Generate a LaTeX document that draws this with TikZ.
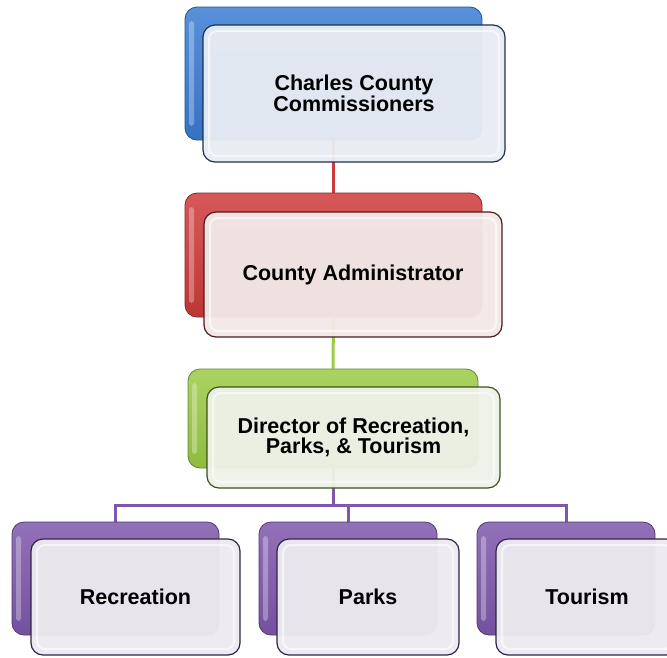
\documentclass[tikz,border=0pt]{standalone}
\usepackage{fontspec}
\setmainfont{Liberation Sans}
\usetikzlibrary{positioning,backgrounds}
\definecolor{cblue}{HTML}{3B7CD3}
\definecolor{cred}{HTML}{CF3B3B}
\definecolor{cgreen}{HTML}{9CCB45}
\definecolor{cpurple}{HTML}{7E58AC}
\tikzset{
  backbox/.style={rectangle,rounded corners=12pt,draw=#1!65!black,line width=0.8pt,
    top color=#1!85!white,bottom color=#1!92!black,inner sep=0pt,
    path picture={\fill[white,opacity=.3,rounded corners=3pt]
      ([shift={(4pt,-14pt)}]path picture bounding box.north west) rectangle
      ([shift={(9pt,14pt)}]path picture bounding box.south west);}},
  frontbox/.style={rectangle,rounded corners=12pt,draw=#1!40!black,line width=1.2pt,
    fill=#1!7!white!96!black,fill opacity=0.96,text opacity=1,inner sep=0pt,
    font=\bfseries\fontsize{21.5}{20.5}\selectfont,align=center,
    path picture={\draw[white,line width=2pt,draw opacity=.6,rounded corners=8pt]
      ([shift={(6pt,-6pt)}]path picture bounding box.north west) rectangle
      ([shift={(-6pt,6pt)}]path picture bounding box.south east);}},
  conn/.style={line width=3pt,draw=#1}
}
\begin{document}
\begin{tikzpicture}[x=1pt,y=-1pt]
\useasboundingbox (0,0) rectangle (667,657);
\clip (0,0) rectangle (667,657);
% level 1
\node[backbox=cblue,minimum width=297pt,minimum height=133pt] (commB) at (333.5,73.5) {};
\node[frontbox=cblue,minimum width=302pt,minimum height=137pt] (commF) at (354,93.5) {Charles County\\Commissioners};
% level 2
\node[backbox=cred,minimum width=297pt,minimum height=124pt] (adminB) at (333.5,255) {};
\node[frontbox=cred,minimum width=298pt,minimum height=125pt] (adminF) at (353,274.5) {County Administrator};
% level 3
\node[backbox=cgreen,minimum width=290pt,minimum height=99pt] (dirB) at (333,418.5) {};
\node[frontbox=cgreen,minimum width=293pt,minimum height=101pt] (dirF) at (353.5,437.5) {Director of Recreation,\\Parks, \& Tourism};
% level 4
\node[backbox=cpurple,minimum width=207pt,minimum height=113pt] (recB) at (115.5,578.5) {};
\node[frontbox=cpurple,minimum width=209pt,minimum height=116pt] (recF) at (135.5,597) {Recreation};
\node[backbox=cpurple,minimum width=178pt,minimum height=113pt] (parksB) at (348,578.5) {};
\node[frontbox=cpurple,minimum width=182pt,minimum height=116pt] (parksF) at (368,597) {Parks};
\node[backbox=cpurple,minimum width=178pt,minimum height=113pt] (tourB) at (566,578.5) {};
\node[frontbox=cpurple,minimum width=182pt,minimum height=116pt] (tourF) at (587,597) {Tourism};
% connectors
\coordinate (bar) at (333,505);
\begin{scope}[on background layer]
\draw[conn=cred] (commB.south) -- (adminB.north);
\draw[conn=cgreen] (adminB.south) -- (dirB.north);
\draw[conn=cpurple] (dirB.south) -- (bar);
\draw[conn=cpurple] (recB.north) |- (bar) -| (tourB.north);
\draw[conn=cpurple] (parksB.north) -- (parksB.north |- bar);
\end{scope}
\end{tikzpicture}
\end{document}
